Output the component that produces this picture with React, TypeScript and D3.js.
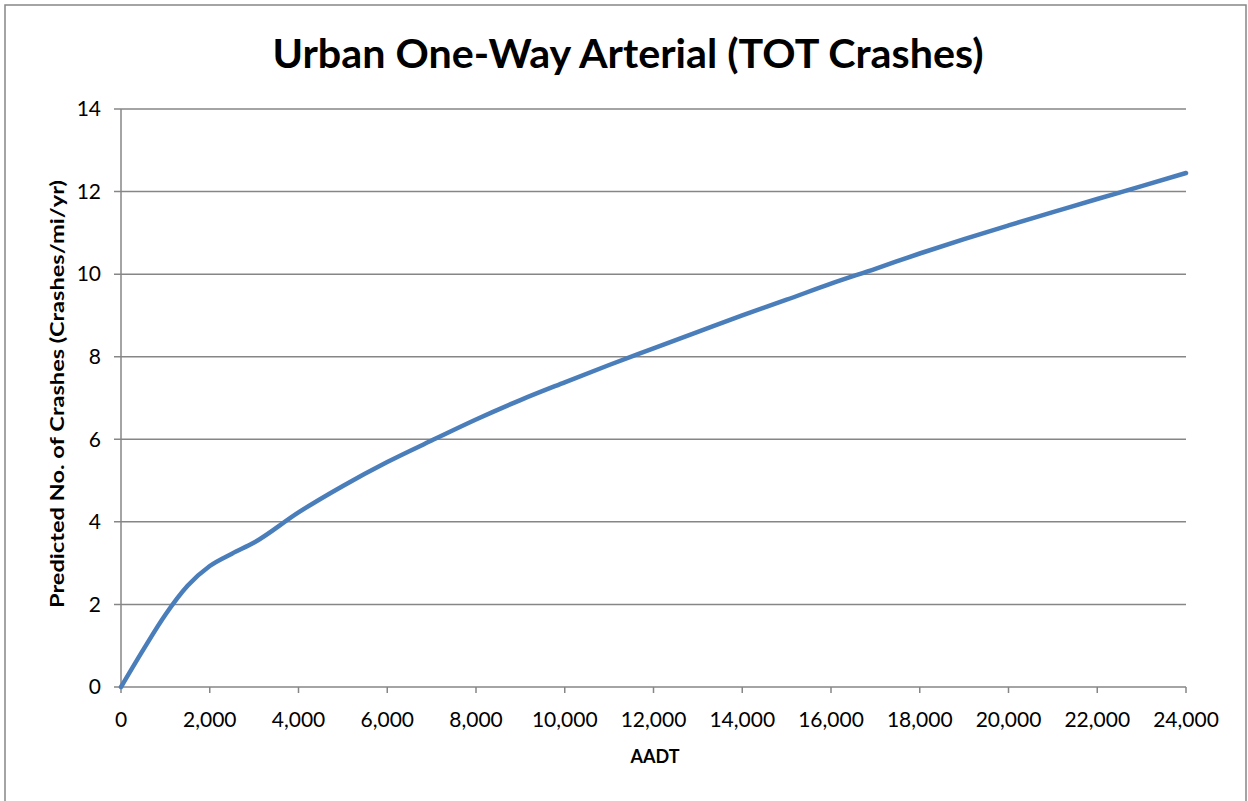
import React from "react";
import * as d3 from "d3";

const aadt = [0, 500, 1000, 1500, 2000, 2500, 3000, 4000, 5000, 6000, 7000, 8000, 9000, 10000, 11000, 12000, 13000, 14000, 15000, 16000, 17000, 18000, 19000, 20000, 21000, 22000, 23000, 24000];
const crashes = [0, 0.9, 1.75, 2.45, 2.93, 3.23, 3.5, 4.23, 4.87, 5.45, 5.97, 6.48, 6.95, 7.38, 7.8, 8.2, 8.6, 9.0, 9.38, 9.77, 10.13, 10.5, 10.85, 11.18, 11.5, 11.82, 12.13, 12.45];
const xTicks = [0, 2000, 4000, 6000, 8000, 10000, 12000, 14000, 16000, 18000, 20000, 22000, 24000];
const yTicks = [0, 2, 4, 6, 8, 10, 12, 14];
const title = "Urban One-Way Arterial (TOT Crashes)";
const xTitle = "AADT";
const yTitle = "Predicted No. of Crashes (Crashes/mi/yr)";

export default function App() {
  const W = 1248, H = 801;
  const x = d3.scaleLinear().domain([0, 24000]).range([121, 1186]);
  const y = d3.scaleLinear().domain([0, 14]).range([687, 109]);
  const fmt = d3.format(",");
  const line = d3
    .line<number>()
    .x((_, i) => x(aadt[i]))
    .y((d) => y(d))
    .curve(d3.curveMonotoneX);
  const font = "Lato, 'Open Sans', sans-serif";
  return (
    <svg width={W} height={H} style={{ position: "fixed", left: 0, top: 0, background: "#fff" }} fontFamily={font}>
      <rect x={5} y={5} width={1241} height={820} fill="#fff" stroke="#868686" strokeWidth={1.5} />
      <text x={628} y={68} textAnchor="middle" fontSize={40} fontWeight="bold" textLength={711} lengthAdjust="spacingAndGlyphs" fill="#000">
        {title}
      </text>
      {yTicks.map((t) => (
        <g key={"y" + t}>
          <line x1={114} x2={x(24000)} y1={y(t)} y2={y(t)} stroke="#868686" strokeWidth={1.5} />
          <text x={101} y={y(t)} dy="0.35em" textAnchor="end" fontSize={21} fill="#000">
            {t}
          </text>
        </g>
      ))}
      <line x1={x(0)} x2={x(0)} y1={y(14)} y2={y(0)} stroke="#868686" strokeWidth={1.5} />
      {xTicks.map((t) => (
        <g key={"x" + t}>
          <line x1={x(t)} x2={x(t)} y1={y(0)} y2={y(0) + 6} stroke="#868686" strokeWidth={1.5} />
          <text x={x(t)} y={720} dy="0.35em" textAnchor="middle" fontSize={21} fill="#000">
            {fmt(t)}
          </text>
        </g>
      ))}
      <path d={line(crashes) || ""} fill="none" stroke="#4a7ebb" strokeWidth={4.5} strokeLinecap="round" strokeLinejoin="round" />
      <text x={655} y={757} dy="0.35em" textAnchor="middle" fontSize={18} fontWeight="bold" fill="#000">
        {xTitle}
      </text>
      <text
        transform={`translate(57,394) rotate(-90)`}
        dy="0.35em"
        textAnchor="middle"
        fontSize={19}
        fontWeight="bold"
        textLength={428}
        lengthAdjust="spacingAndGlyphs"
        fill="#000"
      >
        {yTitle}
      </text>
    </svg>
  );
}
